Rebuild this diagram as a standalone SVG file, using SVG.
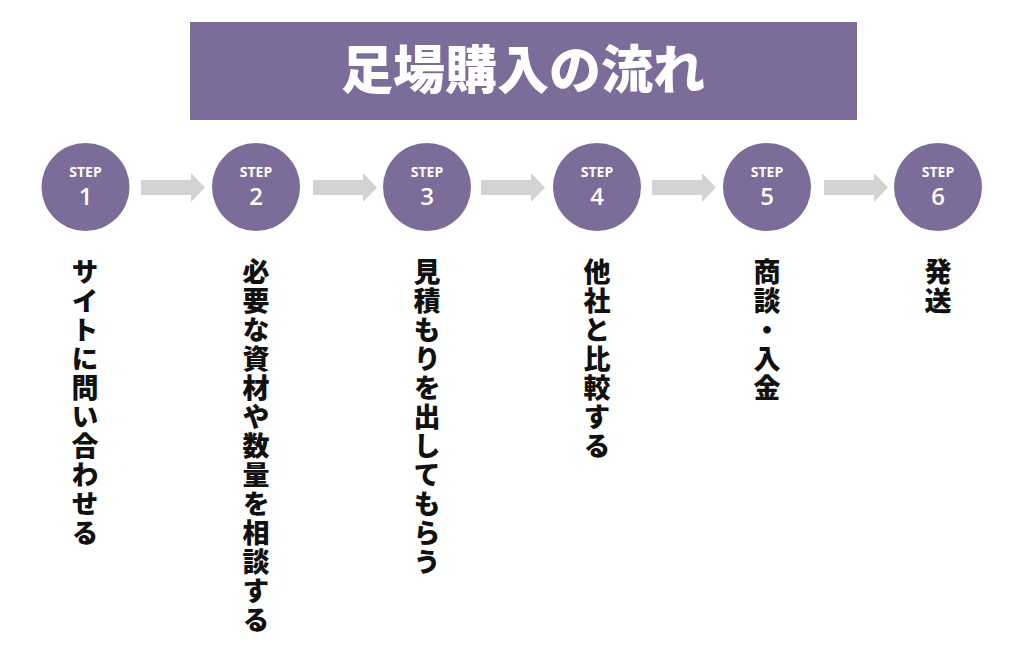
<svg xmlns="http://www.w3.org/2000/svg" width="1024" height="648" viewBox="0 0 1024 648">
<style>
.c{fill:#7b6c99}
.s{font-family:"Open Sans","Liberation Sans",sans-serif;font-weight:bold;fill:#fff;text-anchor:middle}
.n{font-family:"Open Sans","Liberation Sans",sans-serif;font-weight:600;fill:#fff;text-anchor:middle;font-size:24px}
.v{font-family:"Noto Sans CJK JP",sans-serif;font-weight:900;font-size:27px;fill:#111;writing-mode:vertical-rl;letter-spacing:2px}
.a{fill:#d3d3d3}
</style>
<defs><path id="ar" d="M0 -7.5H50V-14.5L64 0L50 14.5V7.5H0Z"/></defs>
<rect x="190" y="22" width="667" height="98" class="c"/>
<text x="523" y="89" font-family="Noto Sans CJK JP,sans-serif" font-weight="900" font-size="52" fill="#fff" text-anchor="middle">足場購入の流れ</text>
<g id="connectors" class="a">
<use href="#ar" x="141" y="187.5"/><use href="#ar" x="313" y="187.5"/><use href="#ar" x="481" y="187.5"/><use href="#ar" x="652" y="187.5"/><use href="#ar" x="824" y="187.5"/>
</g>
<g id="n1"><circle cx="85.5" cy="187" r="44" class="c"/><text x="85.5" y="177" class="s" font-size="14">STEP</text><text x="85.5" y="205" class="n">1</text><text x="85" y="258" class="v">サイトに問い合わせる</text></g>
<g id="n2"><circle cx="256" cy="187" r="44" class="c"/><text x="256" y="177" class="s" font-size="14">STEP</text><text x="256" y="205" class="n">2</text><text x="256" y="258" class="v">必要な資材や数量を相談する</text></g>
<g id="n3"><circle cx="427" cy="187" r="44" class="c"/><text x="427" y="177" class="s" font-size="14">STEP</text><text x="427" y="205" class="n">3</text><text x="427" y="258" class="v">見積もりを出してもらう</text></g>
<g id="n4"><circle cx="597" cy="187" r="44" class="c"/><text x="597" y="177" class="s" font-size="14">STEP</text><text x="597" y="205" class="n">4</text><text x="597" y="258" class="v">他社と比較する</text></g>
<g id="n5"><circle cx="767" cy="187" r="44" class="c"/><text x="767" y="177" class="s" font-size="14">STEP</text><text x="767" y="205" class="n">5</text><text x="767" y="258" class="v">商談・入金</text></g>
<g id="n6"><circle cx="938" cy="187" r="44" class="c"/><text x="938" y="177" class="s" font-size="14">STEP</text><text x="938" y="205" class="n">6</text><text x="938" y="258" class="v">発送</text></g>
</svg>
